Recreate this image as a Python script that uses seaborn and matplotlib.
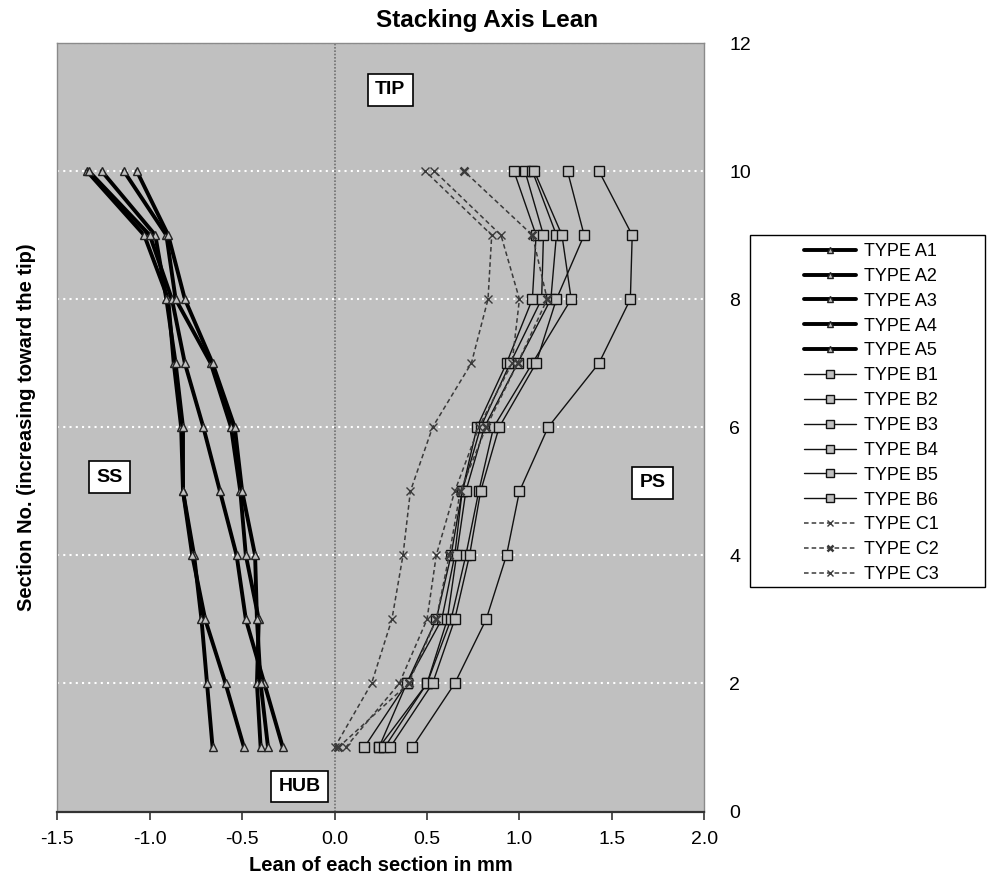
import matplotlib
matplotlib.use("Agg")
import matplotlib.pyplot as plt
import seaborn as sns
import pandas as pd
from matplotlib.lines import Line2D
from matplotlib.patches import Rectangle

# ---------------- data ----------------
sections = [1, 2, 3, 4, 5, 6, 7, 8, 9, 10]

A1 = [-0.66, -0.69, -0.72, -0.76, -0.82, -0.83, -0.87, -0.90, -1.03, -1.34]
A2 = [-0.49, -0.59, -0.70, -0.77, -0.82, -0.82, -0.86, -0.91, -0.97, -1.26]
A3 = [-0.28, -0.38, -0.48, -0.53, -0.62, -0.71, -0.81, -0.88, -1.00, -1.33]
A4 = [-0.40, -0.42, -0.41, -0.48, -0.51, -0.56, -0.67, -0.86, -0.91, -1.14]
A5 = [-0.36, -0.40, -0.42, -0.43, -0.50, -0.54, -0.66, -0.81, -0.90, -1.07]

B1 = [0.16, 0.39, 0.55, 0.63, 0.69, 0.77, 0.93, 1.07, 1.09, 0.97]
B2 = [0.24, 0.39, 0.58, 0.65, 0.69, 0.79, 0.95, 1.12, 1.13, 1.03]
B3 = [0.24, 0.50, 0.61, 0.66, 0.71, 0.81, 0.99, 1.17, 1.20, 1.07]
B4 = [0.27, 0.50, 0.63, 0.71, 0.78, 0.86, 1.07, 1.28, 1.23, 1.08]
B5 = [0.30, 0.53, 0.65, 0.73, 0.79, 0.89, 1.09, 1.20, 1.35, 1.26]
B6 = [0.42, 0.65, 0.82, 0.93, 1.00, 1.155, 1.43, 1.60, 1.61, 1.43]

C1 = [0.00, 0.20, 0.31, 0.37, 0.41, 0.53, 0.74, 0.83, 0.85, 0.49]
C2 = [0.02, 0.40, 0.55, 0.62, 0.68, 0.82, 0.99, 1.15, 1.07, 0.70]
C3 = [0.06, 0.35, 0.50, 0.55, 0.65, 0.78, 0.96, 1.00, 0.90, 0.54]

series_names = ["TYPE A1", "TYPE A2", "TYPE A3", "TYPE A4", "TYPE A5",
                "TYPE B1", "TYPE B2", "TYPE B3", "TYPE B4", "TYPE B5", "TYPE B6",
                "TYPE C1", "TYPE C2", "TYPE C3"]
series_values = [A1, A2, A3, A4, A5, B1, B2, B3, B4, B5, B6, C1, C2, C3]

x_ticks = [-1.5, -1.0, -0.5, 0.0, 0.5, 1.0, 1.5, 2.0]
y_ticks = [0, 2, 4, 6, 8, 10, 12]

# ---------------- style ----------------
sns.set_style("white")
plt.rcParams["font.family"] = ["Liberation Sans", "DejaVu Sans"]
for key in ["text.color", "axes.labelcolor", "xtick.color", "ytick.color"]:
    plt.rcParams[key] = "black"

BG = "#c0c0c0"


def style_for(name):
    kind = name.split()[-1][0]
    if kind == "A":
        return dict(color="black", lw=2.8, ls="-", marker="^", ms=6,
                    mfc=BG, mec="#222222", mew=1.0)
    if kind == "B":
        return dict(color="#111111", lw=1.0, ls="-", marker="s", ms=7,
                    mfc=BG, mec="#111111", mew=1.0)
    mew = 1.8 if name.endswith("C2") else 1.0
    return dict(color="#3a3a3a", lw=1.1, ls=(0, (3, 2)), marker="x", ms=6,
                mfc="none", mec="#3a3a3a", mew=mew)


fig = plt.figure(figsize=(9.93, 8.81), dpi=100)
W, H = 993, 881
x0, x1, y0, y1 = 57.3, 704.3, 43, 811.5
ax = fig.add_axes([x0 / W, 1 - y1 / H, (x1 - x0) / W, (y1 - y0) / H])
ax.set_facecolor(BG)

for name, vals in zip(series_names, series_values):
    st = style_for(name)
    df = pd.DataFrame({"lean": vals, "section": sections})
    sns.lineplot(data=df, x="lean", y="section", orient="y", ax=ax,
                 errorbar=None, color=st["color"], linewidth=st["lw"],
                 linestyle=st["ls"], marker=st["marker"], markersize=st["ms"],
                 markerfacecolor=st["mfc"], markeredgecolor=st["mec"],
                 markeredgewidth=st["mew"], legend=False, zorder=3)

ax.set_xlim(-1.5, 2.0)
ax.set_ylim(0, 12)
ax.set_xticks(x_ticks)
ax.set_xticklabels([f"{v:.1f}" for v in x_ticks], fontsize=14)
ax.set_yticks(y_ticks)
ax.set_yticklabels([str(v) for v in y_ticks], fontsize=14)
ax.yaxis.tick_right()
ax.tick_params(axis="y", length=0, pad=18)
ax.tick_params(axis="x", length=6, width=1.2, color="#333333", pad=8,
               direction="out", bottom=True)

ax.grid(axis="y", color="white", linestyle=(0, (1, 2)), linewidth=1.5, zorder=1)
ax.grid(axis="x", visible=False)
ax.set_axisbelow(True)
ax.axvline(0, color="#707070", linestyle=(0, (1, 1)), linewidth=1.2, zorder=2)

for side in ["left", "right", "top"]:
    ax.spines[side].set_color("#8a8a8a")
    ax.spines[side].set_linewidth(1.0)
ax.spines["bottom"].set_color("#333333")
ax.spines["bottom"].set_linewidth(1.6)

ax.set_xlabel("Lean of each section in mm", fontsize=14.5, fontweight="bold",
              labelpad=6)
ax.set_ylabel("")
fig.text(27 / W, 1 - 427 / H, "Section No. (increasing toward the tip)",
         rotation=90, ha="center", va="center", fontsize=14.5, fontweight="bold")
fig.text(0.49, 1 - 20 / H, "Stacking Axis Lean", ha="center", va="center",
         fontsize=17.5, fontweight="bold")

box = dict(boxstyle="square,pad=0.38", fc="white", ec="black", lw=1.2)
for txt, xv, yv in [("TIP", 0.30, 11.27), ("SS", -1.22, 5.22),
                    ("PS", 1.72, 5.13), ("HUB", -0.19, 0.39)]:
    ax.text(xv, yv, txt, ha="center", va="center", fontsize=14,
            fontweight="bold", bbox=box, zorder=5)

# legend
handles = []
for name in series_names:
    st = style_for(name)
    handles.append(Line2D([], [], color=st["color"], lw=st["lw"], ls=st["ls"],
                          marker=st["marker"], ms=st["ms"] - 1.5,
                          mfc=st["mfc"], mec=st["mec"], mew=st["mew"]))
fig.patches.append(Rectangle((750 / W, 1 - 587 / H), 235 / W, 352 / H,
                             transform=fig.transFigure, fill=False,
                             ec="black", lw=1.0))
fig.legend(handles, series_names, loc="upper left",
           bbox_to_anchor=(804 / W, 1 - 243 / H), frameon=False,
           fontsize=13, handlelength=2.9, handletextpad=0.4,
           labelspacing=0.435, borderpad=0.0, borderaxespad=0.0)

fig.savefig("out.png", dpi=100)
